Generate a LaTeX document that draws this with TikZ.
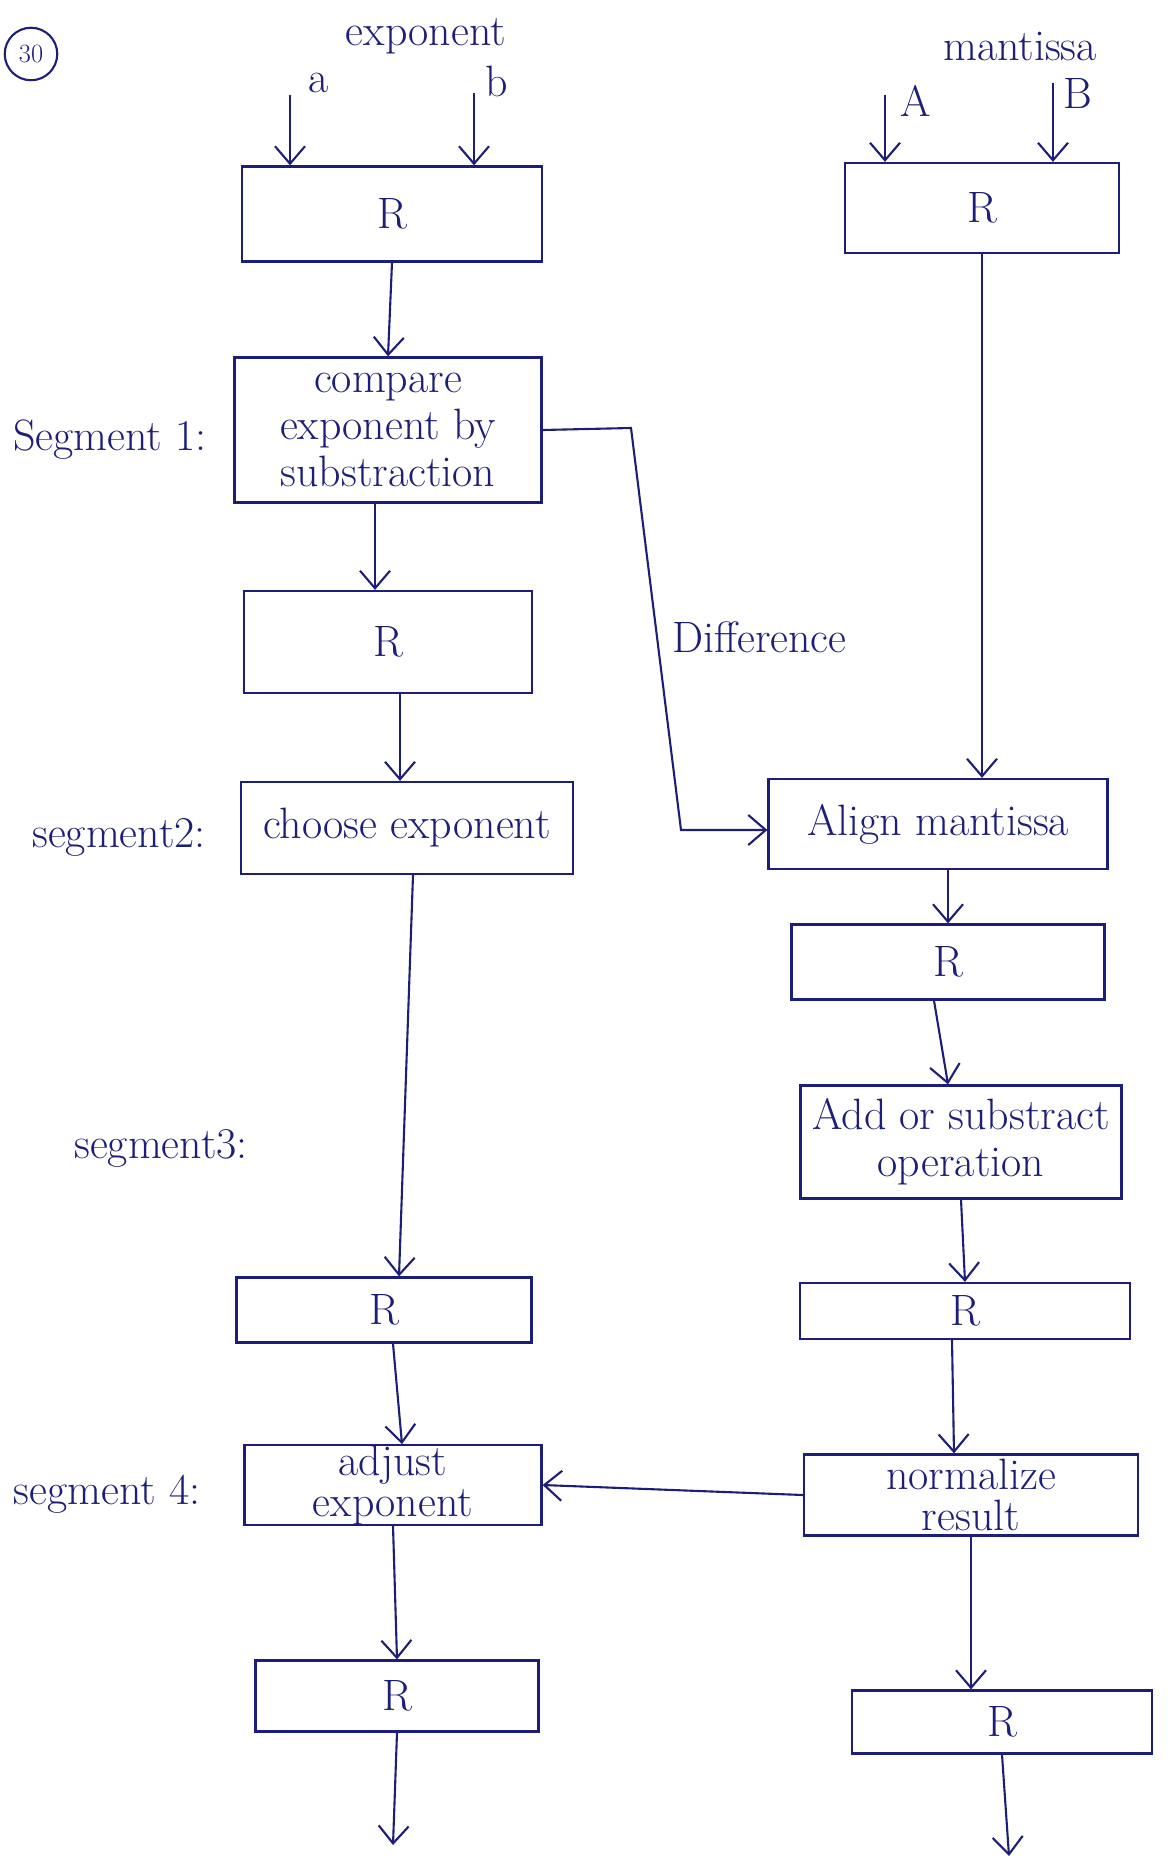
\documentclass[tikz,border=0pt]{standalone}
\usepackage{amsmath}
\usepackage{tikz}
\usetikzlibrary{arrows.meta}
\definecolor{ink}{RGB}{28,30,120}

\begin{document}
\begin{tikzpicture}%
        [x=0.02cm, y=-0.02cm,
        every node/.style={text=ink, font=\fontsize{25}{27}\selectfont},
        reg/.style={draw=ink, line width=1.3pt, rectangle, inner sep=0pt},
        stage/.style={draw=ink, line width=1.3pt, rectangle, inner sep=0pt, align=center},
        tight/.style={font=\fontsize{25}{23}\selectfont},
        flow/.style={draw=ink, line width=1.2pt, -{Straight Barb[length=3.5mm,width=6mm]}},
        wire/.style={draw=ink, line width=1.2pt}]

    \useasboundingbox (0,0) rectangle (1167,1865);

    %% Question number
    \node[draw=ink, circle, line width=1.2pt, minimum size=1.05cm, inner sep=0pt,
          font=\fontsize{15}{17}\selectfont] (qno) at (31,54) {30};

    %% Input labels
    \node (lexp) at (426,36) {exponent};
    \node (la) at (319,83) {a};
    \node (lb) at (497,81) {b};
    \node[inner sep=1pt] (lman) at (1020,47) {mantissa};
    \node[inner sep=1pt] (lA) at (916,101) {A};
    \node[inner sep=1pt] (lB) at (1078,94) {B};

    %% Segment labels
    \node (sega) at (110,440) {Segment 1:};
    \node (segb) at (119,837) {segment2:};
    \node (segc) at (161,1148) {segment3:};
    \node (segd) at (107,1494) {segment 4:};

    %% Exponent pipeline
    \node[reg, minimum width=6cm, minimum height=1.9cm] (ra) at (392,214) {R};
    \node[stage, minimum width=6.14cm, minimum height=2.9cm] (cmp) at (388,430)
        {compare\\exponent by\\substraction};
    \node[reg, minimum width=5.76cm, minimum height=2.04cm] (rb) at (388,642) {R};
    \node[stage, minimum width=6.64cm, minimum height=1.84cm] (chs) at (407,828) {choose exponent};
    \node[reg, minimum width=5.9cm, minimum height=1.3cm] (rc) at (384,1310) {R};
    \node[stage, tight, minimum width=5.94cm, minimum height=1.54cm] (adj) at (393,1485)
        {adjust\\exponent};
    \node[reg, minimum width=5.66cm, minimum height=1.42cm] (rd) at (397,1696) {R};

    %% Mantissa pipeline
    \node[reg, minimum width=5.48cm, minimum height=1.8cm] (rma) at (982,208) {R};
    \node[stage, minimum width=6.78cm, minimum height=1.8cm] (aln) at (938,824) {Align mantissa};
    \node[reg, minimum width=6.26cm, minimum height=1.5cm] (rmb) at (948,962) {R};
    \node[stage, minimum width=6.42cm, minimum height=2.26cm] (add) at (961,1142)
        {Add or substract\\operation};
    \node[reg, minimum width=6.6cm, minimum height=1.12cm] (rmc) at (965,1311) {R};
    \node[stage, tight, minimum width=6.68cm, minimum height=1.62cm] (nrm) at (971,1495)
        {normalize\\result};
    \node[reg, minimum width=6cm, minimum height=1.26cm] (rmd) at (1002,1722) {R};

    %% Free ends
    \coordinate (ina) at (290,95);
    \coordinate (inb) at (474,93);
    \coordinate (inA) at (885,95);
    \coordinate (inB) at (1053,83);
    \coordinate (outa) at (393,1845);
    \coordinate (outb) at (1009,1856);
    \coordinate (dtop) at (631,428);
    \coordinate (dbot) at (681,830);

    %% Inputs
    \draw[flow] (ina) -- (ina |- ra.north);
    \draw[flow] (inb) -- (inb |- ra.north);
    \draw[flow] (inA) -- (inA |- rma.north);
    \draw[flow] (inB) -- (inB |- rma.north);

    %% Exponent flow
    \draw[flow] (ra.south) -- (cmp.north);
    \draw[flow] ([xshift=-0.26cm]cmp.south) -- ([xshift=-0.26cm]rb.north);
    \draw[flow] ([xshift=0.24cm]rb.south) -- ([xshift=0.24cm]rb.south |- chs.north);
    \draw[flow] ([xshift=0.12cm]chs.south) -- ([xshift=0.3cm]rc.north);
    \draw[flow] ([xshift=0.18cm]rc.south) -- ([xshift=0.18cm]adj.north);
    \draw[flow] (adj.south) -- (rd.north);
    \draw[flow] (rd.south) -- (outa);

    %% Mantissa flow
    \draw[flow] (rma.south) -- (rma.south |- aln.north);
    \draw[flow] (aln.south -| rmb.north) -- (rmb.north);
    \draw[flow] ([xshift=-0.28cm]rmb.south) -- ([xshift=-0.26cm]add.north);
    \draw[flow] (add.south) -- (rmc.north);
    \draw[flow] ([xshift=-0.26cm]rmc.south) -- ([xshift=-0.34cm]nrm.north);
    \draw[flow] (nrm.south) -- (nrm.south |- rmd.north);
    \draw[flow] (rmd.south) -- (outb);

    %% Cross links
    \draw[flow] (cmp.east) -- (dtop) -- (dbot) -- (dbot -| aln.west);
    \node[anchor=west] (ldif) at (666,637) {Difference};
    \draw[flow] (nrm.west) -- (adj.east);

\end{tikzpicture}
\end{document}
